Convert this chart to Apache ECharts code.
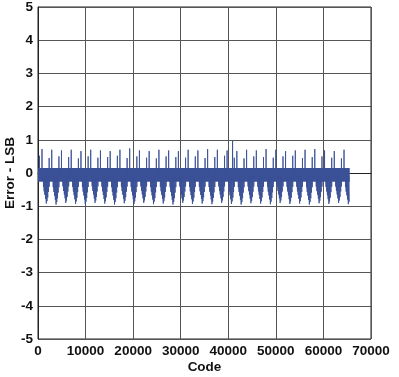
<!DOCTYPE html>
<html>
<head>
<meta charset="utf-8">
<script src="https://cdn.jsdelivr.net/npm/echarts@6/dist/echarts.min.js"></script>
<style>
html,body{margin:0;padding:0;background:#fff;}
#c{width:399px;height:377px;}
</style>
</head>
<body>
<div id="c"></div>
<script>
// ---- data ----
var xTicks = [0, 10000, 20000, 30000, 40000, 50000, 60000, 70000];
var yTicks = [-5, -4, -3, -2, -1, 0, 1, 2, 3, 4, 5];
var lastCode = 65535;
var periodCodes = 2048;            // spike pattern repeats every 2048 codes
var bandTop = 0.15;                // dense error band (upper edge, LSB)
var bandBottom = -0.26;            // dense error band (lower edge, LSB)
// per-period tall positive spike (LSB)
var upTall = [0.72,0.70,0.68,0.70,0.66,0.70,0.68,0.66,0.70,0.74,0.68,0.66,0.70,0.68,0.66,0.70,0.68,0.72,0.70,0.68,0.66,0.70,0.68,0.72,0.70,0.66,0.68,0.70,0.72,0.68,0.66,0.70];
// per-period short positive spike (LSB)
var upShort = [0.52,0.45,0.50,0.48,0.44,0.50,0.46,0.48,0.52,0.45,0.50,0.46,0.44,0.50,0.48,0.46,0.50,0.45,0.48,0.52,0.46,0.44,0.50,0.48,0.46,0.50,0.52,0.45,0.48,0.50,0.46,0.44];
// per-period deepest negative spike (LSB)
var downDeep = [-0.92,-0.95,-0.90,-0.93,-0.94,-0.90,-0.92,-0.95,-0.91,-0.93,-0.90,-0.94,-0.92,-0.95,-0.90,-0.93,-0.92,-0.94,-0.90,-0.93,-0.95,-0.91,-0.92,-0.94,-0.90,-0.93,-0.92,-0.95,-0.91,-0.93,-0.90,-0.94];
// offsets inside a period and relative depth of the negative wedge
var shortOffset = 300, tallOffset = 840;
var wedgeOffsets = [1150, 1300, 1450, 1600, 1750, 1900, 2050, 2200, 2350];
var wedgeShape = [0.45, 0.60, 0.72, 0.85, 1.00, 0.92, 0.80, 0.62, 0.45];
// isolated outlier spike
var outlierCode = [40900];
var outlierVal = [0.97];

// ---- build the spike polyline from those values ----
var spikes = [];
function addSpike(code, v) {
  if (code > lastCode) return;
  var base = v > 0 ? 0.05 : -0.1;
  spikes.push([code, base], [code, v], [code, base]);
}
for (var k = 0; k < upTall.length; k++) {
  var b = k * periodCodes;
  addSpike(b + shortOffset, upShort[k]);
  addSpike(b + tallOffset, upTall[k]);
  for (var j = 0; j < wedgeOffsets.length; j++) {
    addSpike(b + wedgeOffsets[j], downDeep[k] * wedgeShape[j]);
  }
}
for (var m = 0; m < outlierCode.length; m++) addSpike(outlierCode[m], outlierVal[m]);
spikes.sort(function (a, b) { return a[0] - b[0]; });

var font = 'Liberation Sans, Arial, Helvetica, sans-serif';
var blue = '#3b5197';
var chart = echarts.init(document.getElementById('c'), null, {renderer: 'canvas'});
chart.setOption({
  animation: false,
  grid: {left: 38, right: 28, top: 7, bottom: 38, containLabel: false, outerBoundsMode: 'none',
    show: true, borderColor: '#222', borderWidth: 1, backgroundColor: 'transparent'},
  xAxis: {
    type: 'value', min: xTicks[0], max: xTicks[xTicks.length - 1], interval: 10000,
    name: 'Code', nameLocation: 'middle', nameGap: 21, nameMoveOverlap: false,
    nameTextStyle: {fontFamily: font, fontWeight: 'bold', fontSize: 13.5, color: '#111'},
    axisLine: {show: true, lineStyle: {color: '#222', width: 1}},
    axisTick: {show: false},
    axisLabel: {margin: 5, fontFamily: font, fontWeight: 'bold', fontSize: 13.5, color: '#111',
      formatter: function (v) { return String(v); }},
    splitLine: {show: true, lineStyle: {color: '#555', width: 1}}
  },
  yAxis: {
    type: 'value', min: yTicks[0], max: yTicks[yTicks.length - 1], interval: 1,
    name: 'Error - LSB', nameLocation: 'middle', nameGap: 21, nameMoveOverlap: false,
    nameTextStyle: {fontFamily: font, fontWeight: 'bold', fontSize: 13.5, color: '#111'},
    axisLine: {show: true, lineStyle: {color: '#222', width: 1}},
    axisTick: {show: false},
    axisLabel: {margin: 5, fontFamily: font, fontWeight: 'bold', fontSize: 13.5, color: '#111'},
    splitLine: {show: true, lineStyle: {color: '#555', width: 1}}
  },
  series: [
    {
      type: 'line', data: spikes, symbol: 'none', sampling: null, z: 3,
      lineStyle: {color: blue, width: 1, opacity: 0.9},
      markArea: {
        silent: true,
        itemStyle: {color: blue, opacity: 1},
        data: [[{coord: [0, bandTop]}, {coord: [lastCode, bandBottom]}]]
      }
    }
  ]
});
</script>
</body>
</html>
